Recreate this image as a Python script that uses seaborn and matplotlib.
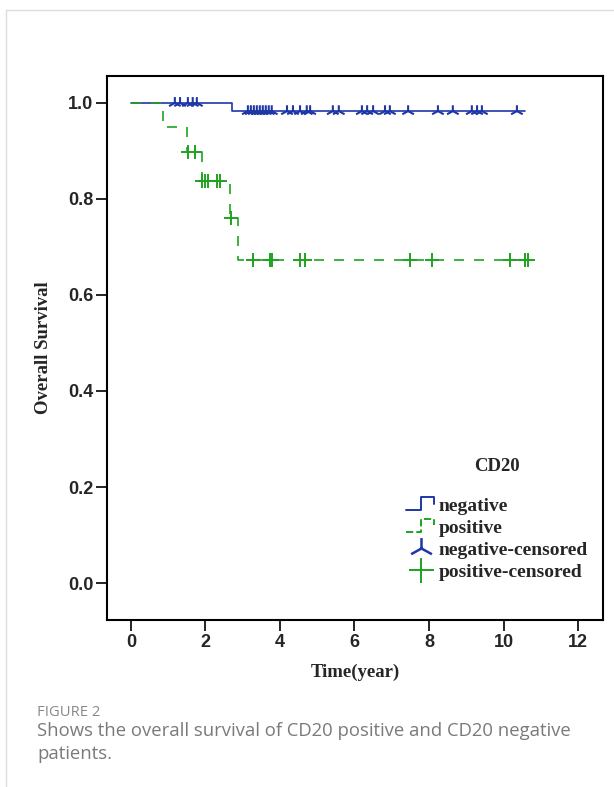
import numpy as np
import pandas as pd
import seaborn as sns
import matplotlib.pyplot as plt
from matplotlib.lines import Line2D
from matplotlib.markers import MarkerStyle
from matplotlib.path import Path
from matplotlib.legend_handler import HandlerBase

# ---------------------------------------------------- data ----------------------------------------------------
neg_event_t = [0.0, 2.71]
neg_surv = [1.0, 0.983]
neg_end = 10.58
neg_censor_t = [1.18, 1.32, 1.53, 1.66, 1.77,
                3.14, 3.22, 3.30, 3.38, 3.46, 3.54, 3.62, 3.70, 3.78,
                4.19, 4.35, 4.54, 4.72, 4.81, 5.42, 5.58,
                6.20, 6.34, 6.50, 6.82, 6.95, 7.44, 8.24, 8.64,
                9.15, 9.29, 9.42, 10.36]

pos_event_t = [0.0, 0.86, 1.50, 1.90, 2.66, 2.87]
pos_surv = [1.0, 0.950, 0.897, 0.838, 0.760, 0.672]
pos_end = 10.79
pos_censor_t = [1.53, 1.72, 1.91, 1.99, 2.07, 2.31, 2.39, 2.68,
                3.28, 3.73, 3.79, 4.54, 4.67, 7.49, 8.08, 10.17, 10.58, 10.66]

x_ticks = [0, 2, 4, 6, 8, 10, 12]
y_ticks = [0.0, 0.2, 0.4, 0.6, 0.8, 1.0]

blue = '#1f36a6'
green = '#1fa31f'


def step_frame(event_t, surv, end, group):
    t = list(event_t) + [end]
    s = list(surv) + [surv[-1]]
    return pd.DataFrame({'time': t, 'surv': s, 'group': group})


def censor_frame(censor_t, event_t, surv):
    idx = np.searchsorted(event_t, censor_t, side='right') - 1
    return pd.DataFrame({'time': censor_t, 'surv': np.array(surv)[idx]})


class StepHandler(HandlerBase):
    # SPSS draws the line keys as a small step: low run, rise, top run, drop
    def create_artists(self, legend, orig_handle, xdescent, ydescent, width, height, fontsize, trans):
        x0, y0 = -xdescent, -ydescent
        xs = [x0, x0 + 0.5 * width, x0 + 0.5 * width, x0 + 0.9 * width, x0 + 0.9 * width]
        ys = [y0 + 0.1 * height, y0 + 0.1 * height, y0 + 1.0 * height, y0 + 1.0 * height, y0 + 0.55 * height]
        line = Line2D(xs, ys, color=orig_handle.get_color(), lw=orig_handle.get_linewidth(),
                      ls=orig_handle.get_linestyle(), transform=trans)
        return [line]


steps = pd.concat([step_frame(neg_event_t, neg_surv, neg_end, 'negative'),
                   step_frame(pos_event_t, pos_surv, pos_end, 'positive')])
neg_cens = censor_frame(neg_censor_t, neg_event_t, neg_surv)
pos_cens = censor_frame(pos_censor_t, pos_event_t, pos_surv)

# SPSS style censor tick: a stem going up, two arms sloping down (separate segments, nothing to fill)
tick_path = Path([(0, 0), (0, 1), (-1, -0.55), (0, 0), (0, 0), (1, -0.55)],
                 [Path.MOVETO, Path.LINETO, Path.MOVETO, Path.LINETO, Path.MOVETO, Path.LINETO])
neg_marker = MarkerStyle(tick_path, fillstyle='none')

# ---------------------------------------------------- plot ----------------------------------------------------
sns.set_style('white')
plt.rcParams['font.family'] = ['Liberation Sans', 'DejaVu Sans']

fig = plt.figure(figsize=(6.14, 7.87), dpi=100)
ax = fig.add_axes([0.1743, 0.2122, 0.8078, 0.6912])

sns.lineplot(data=steps, x='time', y='surv', hue='group', style='group',
             palette={'negative': blue, 'positive': green},
             dashes={'negative': '', 'positive': (6, 6)},
             drawstyle='steps-post', estimator=None, sort=False,
             linewidth=1.2, legend=False, ax=ax)

sns.scatterplot(data=neg_cens, x='time', y='surv', marker=neg_marker, color=blue,
                s=70, linewidth=1.5, legend=False, ax=ax)
sns.scatterplot(data=pos_cens, x='time', y='surv', marker='+', color=green,
                s=90, linewidth=1.4, legend=False, ax=ax)

ax.set_xlim(-0.64, 12.67)
ax.set_ylim(-0.077, 1.056)
ax.set_xticks(x_ticks)
ax.set_yticks(y_ticks)
ax.set_yticklabels([f'{v:.1f}' for v in y_ticks])
ax.tick_params(axis='both', direction='out', length=8, width=1.2, pad=2,
               labelsize=13, color='black', bottom=True, left=True)
for lbl in ax.get_xticklabels() + ax.get_yticklabels():
    lbl.set_fontweight('bold')
for sp in ax.spines.values():
    sp.set_color('black')
    sp.set_linewidth(1.5)

serif = ['Liberation Serif', 'DejaVu Serif']
ax.set_xlabel('Time(year)', family=serif, fontweight='bold', fontsize=13.5, labelpad=9)
ax.set_ylabel('Overall Survival', family=serif, fontweight='bold', fontsize=13.5, labelpad=11)

neg_key = Line2D([], [], color=blue, lw=1.4)
pos_key = Line2D([], [], color=green, lw=1.4, ls=(0, (3, 3)))
handles = [neg_key, pos_key,
           Line2D([], [], color=blue, lw=0, marker=neg_marker, markersize=15, markeredgewidth=1.8),
           Line2D([], [], color=green, lw=0, marker='+', markersize=18, markeredgewidth=1.4)]
labels = ['negative', 'positive', 'negative-censored', 'positive-censored']
leg = ax.legend(handles, labels, title='CD20', loc='lower right', bbox_to_anchor=(1.005, 0.04),
                frameon=False, handlelength=1.6, handletextpad=0.1, labelspacing=0.22,
                handler_map={neg_key: StepHandler(), pos_key: StepHandler()},
                prop={'family': serif, 'weight': 'bold', 'size': 14})
leg.get_title().set_fontproperties({'family': serif, 'weight': 'bold', 'size': 13.5})
leg._legend_box.sep = 16

# card border and caption
fig.add_artist(Line2D([6 / 614, 6 / 614], [0, 1 - 10 / 787], color='#dddddd', lw=1))
fig.add_artist(Line2D([6 / 614, 1], [1 - 10 / 787, 1 - 10 / 787], color='#dddddd', lw=1))
fig.text(37 / 614, 1 - 712 / 787, 'FIGURE 2', family=['Open Sans', 'DejaVu Sans'],
         fontsize=10.6, color='#888888', va='center')
fig.text(37 / 614, 1 - 731 / 787, 'Shows the overall survival of CD20 positive and CD20 negative',
         family=['Open Sans', 'DejaVu Sans'], fontsize=13.3, color='#7a7a7a', va='center')
fig.text(37 / 614, 1 - 754 / 787, 'patients.',
         family=['Open Sans', 'DejaVu Sans'], fontsize=13.3, color='#7a7a7a', va='center')

fig.savefig('out.png', dpi=100)
